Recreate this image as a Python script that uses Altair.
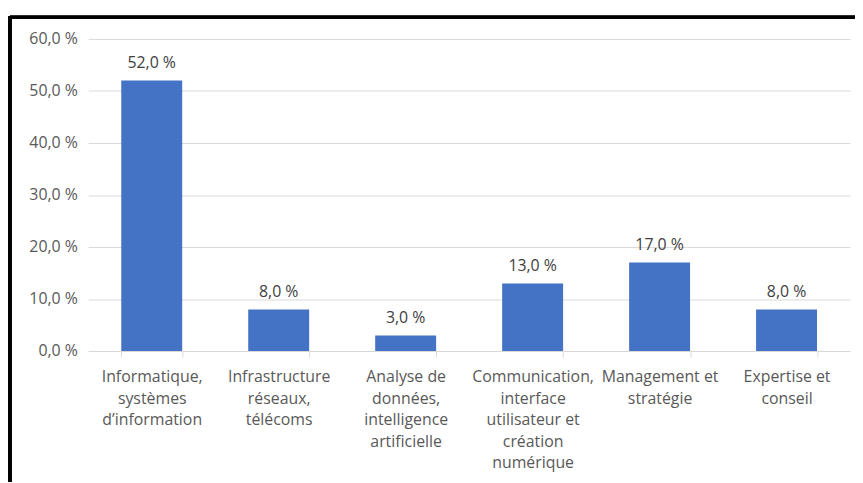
import altair as alt
import pandas as pd

categories = [
    "Informatique,|systèmes|d’information",
    "Infrastructure|réseaux,|télécoms",
    "Analyse de|données,|intelligence|artificielle",
    "Communication,|interface|utilisateur et|création|numérique",
    "Management et|stratégie",
    "Expertise et|conseil",
]
values = [52.0, 8.0, 3.0, 13.0, 17.0, 8.0]

df = pd.DataFrame({"cat": categories, "val": values})
df["lbl"] = [f"{v:.1f}".replace(".", ",") + " %" for v in values]

FONT = "Open Sans"
GREY = "#595959"

x = alt.X("cat:N", sort=categories, title=None,
          scale=alt.Scale(paddingInner=0.52, paddingOuter=0.26),
          axis=alt.Axis(labelAngle=0, labelExpr="split(datum.label, '|')",
                        labelFont=FONT, labelFontSize=16, labelColor=GREY,
                        labelLineHeight=21.7, labelPadding=12, labelBaseline="top",
                        tickBand="extent", tickSize=6, tickColor="#d9d9d9",
                        domainColor="#d9d9d9", grid=False, labelLimit=200))
y = alt.Y("val:Q", title=None,
          scale=alt.Scale(domain=[0, 60], nice=False),
          axis=alt.Axis(values=[0, 10, 20, 30, 40, 50, 60],
                        labelExpr="replace(format(datum.value, '.1f'), '.', ',') + ' %'",
                        labelFont=FONT, labelFontSize=16, labelColor=GREY,
                        labelPadding=11, domain=False, ticks=False,
                        gridColor="#d9d9d9", gridWidth=1))

bars = alt.Chart(df).mark_bar(color="#4472C4").encode(x=x, y=y)
text = alt.Chart(df).mark_text(baseline="bottom", dy=-10, font=FONT, fontSize=16,
                               color="#404040").encode(x=x, y=y, text="lbl:N")

frame_top = alt.Chart(df).mark_rule(color="black", strokeWidth=3, clip=False).encode(
    x=alt.value(-79), x2=alt.value(800), y=alt.value(-22))
frame_left = alt.Chart(df).mark_rule(color="black", strokeWidth=3, clip=False).encode(
    x=alt.value(-79), y=alt.value(-23), y2=alt.value(460))

chart = alt.layer(frame_top, frame_left, bars, text).properties(
    width=769, height=315,
    autosize=alt.AutoSizeParams(type="none"),
    padding={"left": 81, "top": 29, "right": 5, "bottom": 130},
).configure_view(stroke=None)

chart.save("out.html", embed_options={"renderer": "svg", "actions": False})
